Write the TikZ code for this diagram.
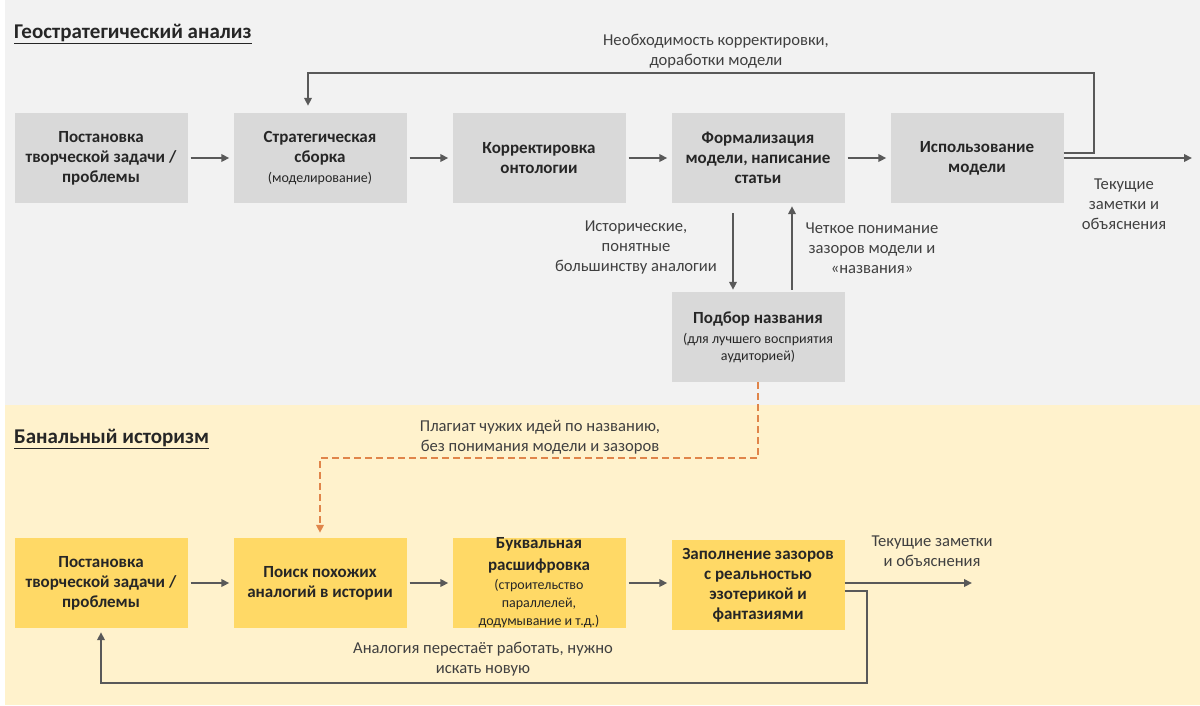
\documentclass[tikz,border=0pt]{standalone}
\usepackage{fontspec}
\setmainfont{Carlito}
\usetikzlibrary{arrows.meta}
\definecolor{bgtop}{HTML}{F2F2F2}
\definecolor{bgbot}{HTML}{FFF2CC}
\definecolor{gfill}{HTML}{D9D9D9}
\definecolor{yfill}{HTML}{FFD966}
\definecolor{arr}{HTML}{595959}
\definecolor{txt}{HTML}{262626}
\definecolor{lbl}{HTML}{404040}
\definecolor{orng}{HTML}{E0854A}
\tikzset{
  boxbase/.style={minimum width=173pt, minimum height=90pt, inner sep=1pt, align=center, text=txt, font=\bfseries\fontsize{17}{20}\selectfont},
  gbox/.style={boxbase, fill=gfill},
  ybox/.style={boxbase, fill=yfill},
  conn/.style={draw=arr, line width=2.6pt, -{Triangle[length=8pt,width=7.5pt]}},
  dconn/.style={draw=orng, line width=2.5pt, dash pattern=on 7pt off 4pt, -{Triangle[length=8pt,width=7.5pt]}},
  lab/.style={align=center, text=lbl, font=\fontsize{16.6}{20}\selectfont, inner sep=0pt},
  head/.style={anchor=base west, text=txt, font=\bfseries\fontsize{21}{24}\selectfont, inner sep=0pt},
}
\newcommand{\smalltxt}[1]{{\mdseries\fontsize{14}{17}\selectfont #1}}
\begin{document}
\begin{tikzpicture}[x=1pt,y=-1pt]
\useasboundingbox (0,0) rectangle (1200,705);
\fill[white] (0,0) rectangle (1200,705);
\fill[bgtop] (5,0) rectangle (1200,405);
\fill[bgbot] (5,405) rectangle (1200,705);

\node[head] (h1) at (14,38) {\underline{Геостратегический анализ}};
\node[head] (h2) at (14,443) {\underline{Банальный историзм}};

% top row
\node[gbox] (t1) at (101,158) {Постановка\\творческой задачи /\\проблемы};
\node[gbox] (t2) at (320,158) {Стратегическая\\сборка\\\smalltxt{(моделирование)}};
\node[gbox] (t3) at (539,158) {Корректировка\\онтологии};
\node[gbox] (t4) at (758,158) {Формализация\\модели, написание\\статьи};
\node[gbox] (t5) at (977,158) {Использование\\модели};
\node[gbox, font=\bfseries\fontsize{17}{17}\selectfont] (t6) at (758,337) {Подбор названия\\[3pt]\smalltxt{(для лучшего восприятия}\\\smalltxt{аудиторией)}};

\draw[conn] ([xshift=3pt]t1.east) -- ([xshift=-4pt]t2.west);
\draw[conn] ([xshift=3pt]t2.east) -- ([xshift=-4pt]t3.west);
\draw[conn] ([xshift=3pt]t3.east) -- ([xshift=-4pt]t4.west);
\draw[conn] ([xshift=3pt]t4.east) -- ([xshift=-4pt]t5.west);
\coordinate (outT) at (1192,158);
\draw[conn] (t5.east) -- (outT);
\draw[conn] ([yshift=5pt]t5.east) -- (1094,153) -- (1094,73) -- (308,73) -- ([xshift=-12pt,yshift=7pt]t2.north);
\draw[conn] ([xshift=-25pt,yshift=-10pt]t4.south) -- ([xshift=-25pt,yshift=2pt]t6.north);
\draw[conn] ([xshift=34pt,yshift=2pt]t6.north) -- ([xshift=34pt,yshift=-3pt]t4.south);

\node[lab] (l1) at (716,51) {Необходимость корректировки,\\доработки модели};
\node[lab] (l2) at (636,248) {Исторические,\\понятные\\большинству аналогии};
\node[lab] (l3) at (872,248) {Четкое понимание\\зазоров модели и\\«названия»};
\node[lab] (l4) at (1124,204) {Текущие\\заметки и\\объяснения};

% bottom row
\node[ybox] (b1) at (101,583) {Постановка\\творческой задачи /\\проблемы};
\node[ybox] (b2) at (320,583) {Поиск похожих\\аналогий в истории};
\node[ybox, inner sep=0pt, font=\bfseries\fontsize{17}{18}\selectfont] (b3) at (539,583) {Буквальная\\[4pt]расшифровка\\[1pt]\smalltxt{(строительство}\\\smalltxt{параллелей,}\\\smalltxt{додумывание и т.д.)}};
\node[ybox] (b4) at (758,585) {Заполнение зазоров\\с реальностью\\эзотерикой и\\фантазиями};

\draw[conn] ([xshift=3pt]b1.east) -- ([xshift=-4pt]b2.west);
\draw[conn] ([xshift=3pt]b2.east) -- ([xshift=-4pt]b3.west);
\draw[conn] ([xshift=3pt]b3.east) -- ([xshift=-4pt]b3.east -| b4.west);
\coordinate (outB) at (972,583);
\draw[conn] ([yshift=2pt]b4.east) -- (outB);
\draw[conn] ([yshift=-6pt]b4.east) -- (867,591) -- (867,683) -- (101,683) -- ([yshift=-4pt]b1.south);

\draw[dconn] (t6.south) -- (758,458) -- (320,458) -- ([yshift=5pt]b2.north);

\node[lab] (l5) at (540,437) {Плагиат чужих идей по названию,\\без понимания модели и зазоров};
\node[lab] (l6) at (483,659) {Аналогия перестаёт работать, нужно\\искать новую};
\node[lab] (l7) at (932,551) {Текущие заметки\\и объяснения};
\end{tikzpicture}
\end{document}
